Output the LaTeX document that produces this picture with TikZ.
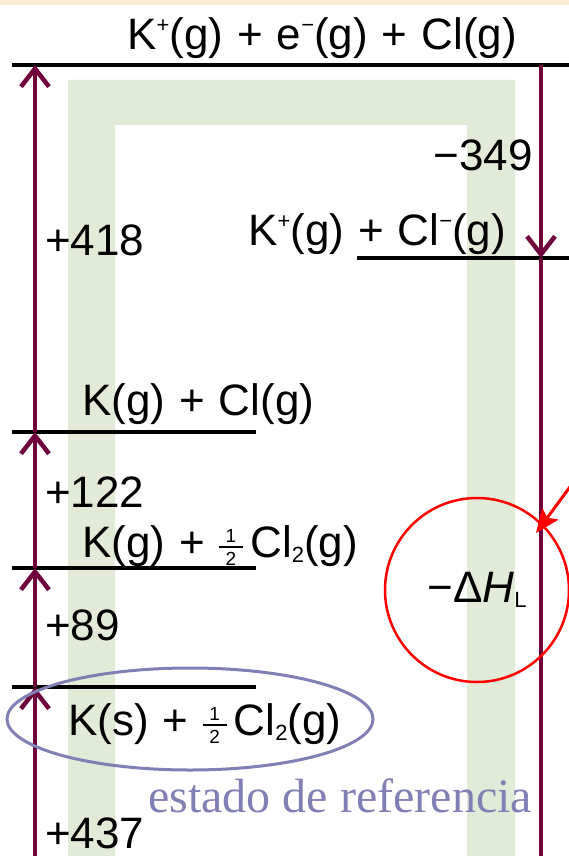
\documentclass[tikz,border=0pt]{standalone}
\usepackage{fontspec}
\setmainfont{Liberation Sans}
\newfontfamily\refserif{Liberation Serif}
\usepackage{tikz}
\usetikzlibrary{positioning,shapes.geometric,arrows.meta,calc}
\definecolor{bornline}{RGB}{110,0,60}
\definecolor{bandgreen}{RGB}{226,234,216}
\definecolor{refblue}{RGB}{128,128,180}
\definecolor{topbeige}{RGB}{250,238,214}
\newcommand{\halfcl}{\raisebox{-8pt}{\fontsize{19}{19}\selectfont\vbox{\hbox to 24pt{\hfil 1\hfil}\kern3.5pt\hrule height 2pt\kern3.5pt\hbox to 24pt{\hfil 2\hfil}}}}
\newcommand{\sups}[1]{\raisebox{17pt}{\fontsize{22}{22}\selectfont #1}}
\newcommand{\subs}[1]{\raisebox{-5pt}{\fontsize{22}{22}\selectfont #1}}
\newcommand{\pl}{\hspace{14pt}+\hspace{14pt}}

\begin{document}
\begin{tikzpicture}[
    x=1pt,y=-1pt,
    levelline/.style={line width=4pt},
    bornv/.style={bornline,line width=3.5pt},
    uparrow/.style={bornv,-{Straight Barb[length=18pt,width=28pt,line width=4.5pt]}},
    chem/.style={inner sep=0pt,anchor=base west,font=\fontsize{44}{48}\selectfont},
    redarrow/.style={red,line width=3pt,-{Stealth[length=24pt,width=20pt,inset=5pt]}}
  ]
    \useasboundingbox (0,0) rectangle (569,856);
    \fill[topbeige] (0,0) rectangle (569,5);
    % pale band behind the cycle
    \fill[bandgreen] (68,856) -- (68,80) -- (515,80) -- (515,856) -- (467,856)
      -- (467,125) -- (115,125) -- (115,856) -- cycle;

    % energy levels
    \draw[levelline] (12,65) -- (569,65);
    \draw[levelline] (357,258) -- (569,258);
    \draw[levelline] (12,432) -- (256,432);
    \draw[levelline] (12,568) -- (256,568);
    \draw[levelline] (12,687) -- (256,687);

    \coordinate (a0) at (35,856);
    \coordinate (a1) at (35,687);
    \coordinate (a2) at (35,568);
    \coordinate (a3) at (35,432);
    \coordinate (a4) at (35,65);
    \coordinate (b0) at (541,65);
    \coordinate (b1) at (541,258);
    \coordinate (b2) at (541,856);

    \draw[uparrow] (a0) -- (a1);
    \draw[uparrow] (a1) -- (a2);
    \draw[uparrow] (a2) -- (a3);
    \draw[uparrow] (a3) -- (a4);
    \draw[uparrow] (b0) -- (b1);
    \draw[bornv] (b1) -- (b2);

    \node[chem] (ionsE) at (127,50) {K\sups{+}(g)\pl e\sups{−}(g)\pl Cl(g)};
    \node[chem,anchor=base east] (eaCl) at (533,170) {−349};
    \node[chem] (ions) at (248,245) {K\sups{+}(g)\pl Cl\sups{−}(g)};
    \node[chem] (ieK) at (45,255) {+418};
    \node[chem] (atoms) at (82,415) {K(g)\pl Cl(g)};
    \node[chem] (dissCl) at (45,507) {+122};
    \node[chem] (gasK) at (82,557) {K(g)\pl\halfcl\,Cl\subs{2}(g)};
    \node[chem] (subK) at (45,640) {+89};
    \node[chem] (solidK) at (68,735) {K(s)\pl\halfcl\,Cl\subs{2}(g)};
    \node[chem] (lattE) at (45,848) {+437};

    % reference state
    \node[ellipse,draw=refblue,line width=3pt,minimum width=366pt,minimum height=102pt] (refstate) at (190,719) {};
    \node[inner sep=0pt,anchor=base west,text=refblue,font=\refserif\fontsize{48}{50}\selectfont] (refname) at (148,812) {estado de referencia};

    % lattice enthalpy
    \node[circle,draw=red,line width=2.5pt,minimum size=184pt,inner sep=0pt,font=\fontsize{44}{48}\selectfont] (lattice) at (477,590) {−Δ\textit{H}\subs{L}};
    \coordinate (hint) at (578,476);
    \coordinate (hit) at (536,533);
    \draw[redarrow] (hint) -- (hit);
  \end{tikzpicture}
\end{document}
